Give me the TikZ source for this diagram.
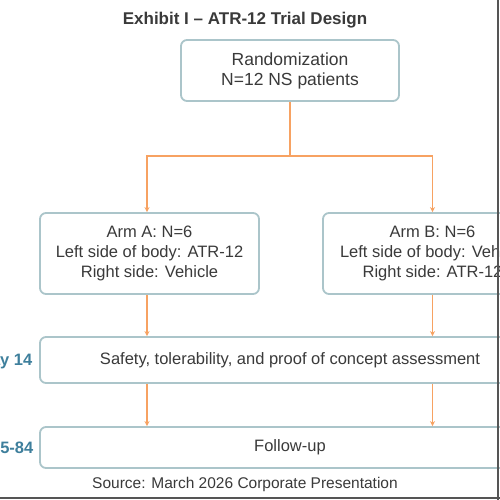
\documentclass[tikz,border=0pt]{standalone}
\usepackage{fontspec}
\setmainfont{Liberation Sans}
\usetikzlibrary{arrows.meta}
\definecolor{txt}{HTML}{3A3A3A}
\definecolor{boxcol}{HTML}{ABC5CA}
\definecolor{orng}{HTML}{F7A262}
\definecolor{daycol}{HTML}{3E7F9C}
\definecolor{framecol}{HTML}{555555}
\tikzset{
  stagebox/.style={draw=boxcol, line width=1.8pt, rounded corners=6pt, fill=white,
    text=txt, align=center, inner sep=0pt},
  boxtext/.style={font=\fontsize{16.5}{20}\selectfont},
  conn/.style={draw=orng, line width=1.2pt},
  arr/.style={conn, -{Stealth[length=5pt,width=5pt]}},
  daylabel/.style={anchor=east, text=daycol, font=\bfseries\fontsize{16.5}{18}\selectfont, inner sep=0pt},
}
\begin{document}
\begin{tikzpicture}[x=1pt,y=-1pt]
\useasboundingbox (0,0) rectangle (500,500);
\clip (0,0) rectangle (500,500);
\fill[white] (0,0) rectangle (500,500);

\node[text=txt, font=\bfseries\fontsize{17}{20}\selectfont] (title) at (245,20) {Exhibit I – ATR-12 Trial Design};

\node[stagebox, minimum width=218pt, minimum height=61pt,
      font=\fontsize{17.5}{20}\selectfont] (rand) at (290,70.5)
      {Randomization\\N=12 NS patients};

\node[stagebox, boxtext, minimum width=219pt, minimum height=81pt] (armA) at (149.5,253.5)
      {Arm A: N=6\\Left side of body: ATR-12\\Right side: Vehicle};
\node[stagebox, boxtext, minimum width=219pt, minimum height=81pt] (armB) at (432.5,253.5)
      {Arm B: N=6\\Left side of body: Vehicle\\Right side: ATR-12};

\node[stagebox, boxtext, minimum width=500pt, minimum height=46pt] (safety) at (290,360)
      {Safety, tolerability, and proof of concept assessment};
\node[stagebox, boxtext, minimum width=500pt, minimum height=41pt] (follow) at (290,447.5)
      {Follow-up};

\node[daylabel] (d14) at (32.5,362) {Day 14};
\node[daylabel] (d1584) at (33.5,449) {Day 15-84};

\node[text=txt, font=\fontsize{15.5}{18}\selectfont] (src) at (245,484) {Source: March 2026 Corporate Presentation};

\coordinate (split) at (290,156);
\draw[conn] (rand.south) -- (split);
\draw[arr] (split) -| ([xshift=-2.5pt]armA.north);
\draw[arr] (split) -| (armB.north);

\draw[arr] ([xshift=-2.5pt]armA.south) -- ([xshift=-2.5pt]armA.south |- safety.north);
\draw[arr] (armB.south) -- (armB.south |- safety.north);
\draw[arr] ([xshift=-2.5pt]armA.south |- safety.south) -- ([xshift=-2.5pt]armA.south |- follow.north);
\draw[arr] (armB.south |- safety.south) -- (armB.south |- follow.north);

\draw[framecol, line width=2pt] (498.3,0) -- (498.3,500);
\draw[framecol, line width=2pt] (0,498.3) -- (500,498.3);
\end{tikzpicture}
\end{document}
